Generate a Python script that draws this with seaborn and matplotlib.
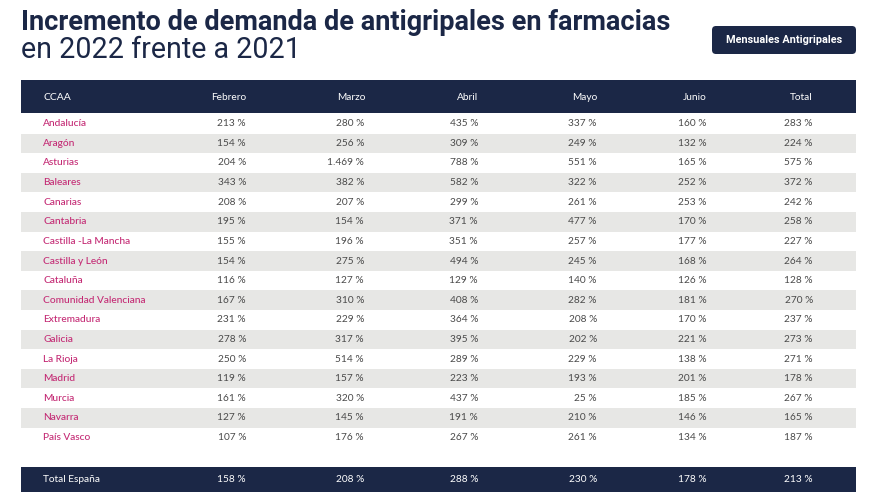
import matplotlib
matplotlib.use("Agg")
import matplotlib.pyplot as plt
from matplotlib.patches import Rectangle, FancyBboxPatch
from matplotlib.colors import ListedColormap
from matplotlib.transforms import blended_transform_factory
import numpy as np
import pandas as pd
import seaborn as sns

# ---- data ----
regions = ["Andalucía", "Aragón", "Asturias", "Baleares", "Canarias", "Cantabria",
           "Castilla -La Mancha", "Castilla y León", "Cataluña", "Comunidad Valenciana",
           "Extremadura", "Galicia", "La Rioja", "Madrid", "Murcia", "Navarra", "País Vasco"]
months = ["Febrero", "Marzo", "Abril", "Mayo", "Junio", "Total"]
febrero = [213, 154, 204, 343, 208, 195, 155, 154, 116, 167, 231, 278, 250, 119, 161, 127, 107]
marzo = [280, 256, 1469, 382, 207, 154, 196, 275, 127, 310, 229, 317, 514, 157, 320, 145, 176]
abril = [435, 309, 788, 582, 299, 371, 351, 494, 129, 408, 364, 395, 289, 223, 437, 191, 267]
mayo = [337, 249, 551, 322, 261, 477, 257, 245, 140, 282, 208, 202, 229, 193, 25, 210, 261]
junio = [160, 132, 165, 252, 253, 170, 177, 168, 126, 181, 170, 221, 138, 201, 185, 146, 134]
total = [283, 224, 575, 372, 242, 258, 227, 264, 128, 270, 237, 273, 271, 178, 267, 165, 187]
total_espana = [158, 208, 288, 230, 178, 213]

df = pd.DataFrame({"Febrero": febrero, "Marzo": marzo, "Abril": abril,
                   "Mayo": mayo, "Junio": junio, "Total": total}, index=regions)

# ---- style ----
navy = "#1b2746"
pink = "#c42a74"
grey_txt = "#4a4a4a"
stripe = "#e7e7e5"
sns.set_theme(style="white")
plt.rcParams["font.family"] = ["Lato", "DejaVu Sans"]

W, H = 880, 495
fig = plt.figure(figsize=(W / 100, H / 100), dpi=100)
base = fig.add_axes([0, 0, 1, 1])
base.set_xlim(0, W)
base.set_ylim(H, 0)
base.axis("off")

# title
base.text(21, 23, "Incremento de demanda de antigripales en farmacias", fontsize=19.5,
          fontweight="bold", color=navy, va="center", ha="left", family=["Roboto", "DejaVu Sans"])
base.text(21, 50, "en 2022 frente a 2021", fontsize=20.6, color=navy, va="center",
          ha="left", family=["Roboto", "DejaVu Sans"])

# button
base.add_patch(FancyBboxPatch((712, 26), 144, 28, boxstyle="round,pad=0,rounding_size=4",
                              fc=navy, ec="none"))
base.text(784, 40, "Mensuales Antigripales", fontsize=7.8, fontweight="bold", color="white",
          ha="center", va="center", family=["Roboto", "DejaVu Sans"])

# header / footer bands
x0, x1 = 21, 856
base.add_patch(Rectangle((x0, 80), x1 - x0, 33, fc=navy, ec="none"))
base.add_patch(Rectangle((x0, 467), x1 - x0, 25, fc=navy, ec="none"))

col_center = [229, 351, 468, 585, 695, 801]
col_right = [246, 364, 478, 597, 707, 813]
name_x = 43

base.text(name_x, 97, "CCAA", color="white", fontsize=7.5, ha="left", va="center")
for m, cx in zip(months, col_center):
    base.text(cx, 97, m, color="white", fontsize=7.3, ha="center", va="center")

# striped body via seaborn heatmap
n = len(regions)
pitch = 19.6
top = 114
hm_ax = fig.add_axes([x0 / W, 1 - (top + n * pitch) / H, (x1 - x0) / W, n * pitch / H])
parity = pd.DataFrame({"s": [i % 2 for i in range(n)]}, index=regions)
sns.heatmap(parity, cmap=ListedColormap(["white", stripe]), cbar=False, ax=hm_ax,
            xticklabels=False, yticklabels=False, vmin=0, vmax=1)
hm_ax.axis("off")

tr = blended_transform_factory(base.transData, hm_ax.transData)


def fmt(v):
    return f"{v:,}".replace(",", ".") + " %"


for i, r in enumerate(regions):
    hm_ax.text(name_x, i + 0.5, r, transform=tr, color=pink, fontsize=7.3, ha="left",
               va="center", clip_on=False, fontweight="medium")
    for m, rx in zip(months, col_right):
        hm_ax.text(rx, i + 0.5, fmt(df.loc[r, m]), transform=tr, color=grey_txt,
                   fontsize=7.3, ha="right", va="center", clip_on=False)

base.text(name_x, 479.5, "Total España", color="white", fontsize=7.3, ha="left", va="center")
for v, rx in zip(total_espana, col_right):
    base.text(rx, 479.5, fmt(v), color="white", fontsize=7.3, ha="right", va="center")

fig.savefig("out.png", dpi=100)
